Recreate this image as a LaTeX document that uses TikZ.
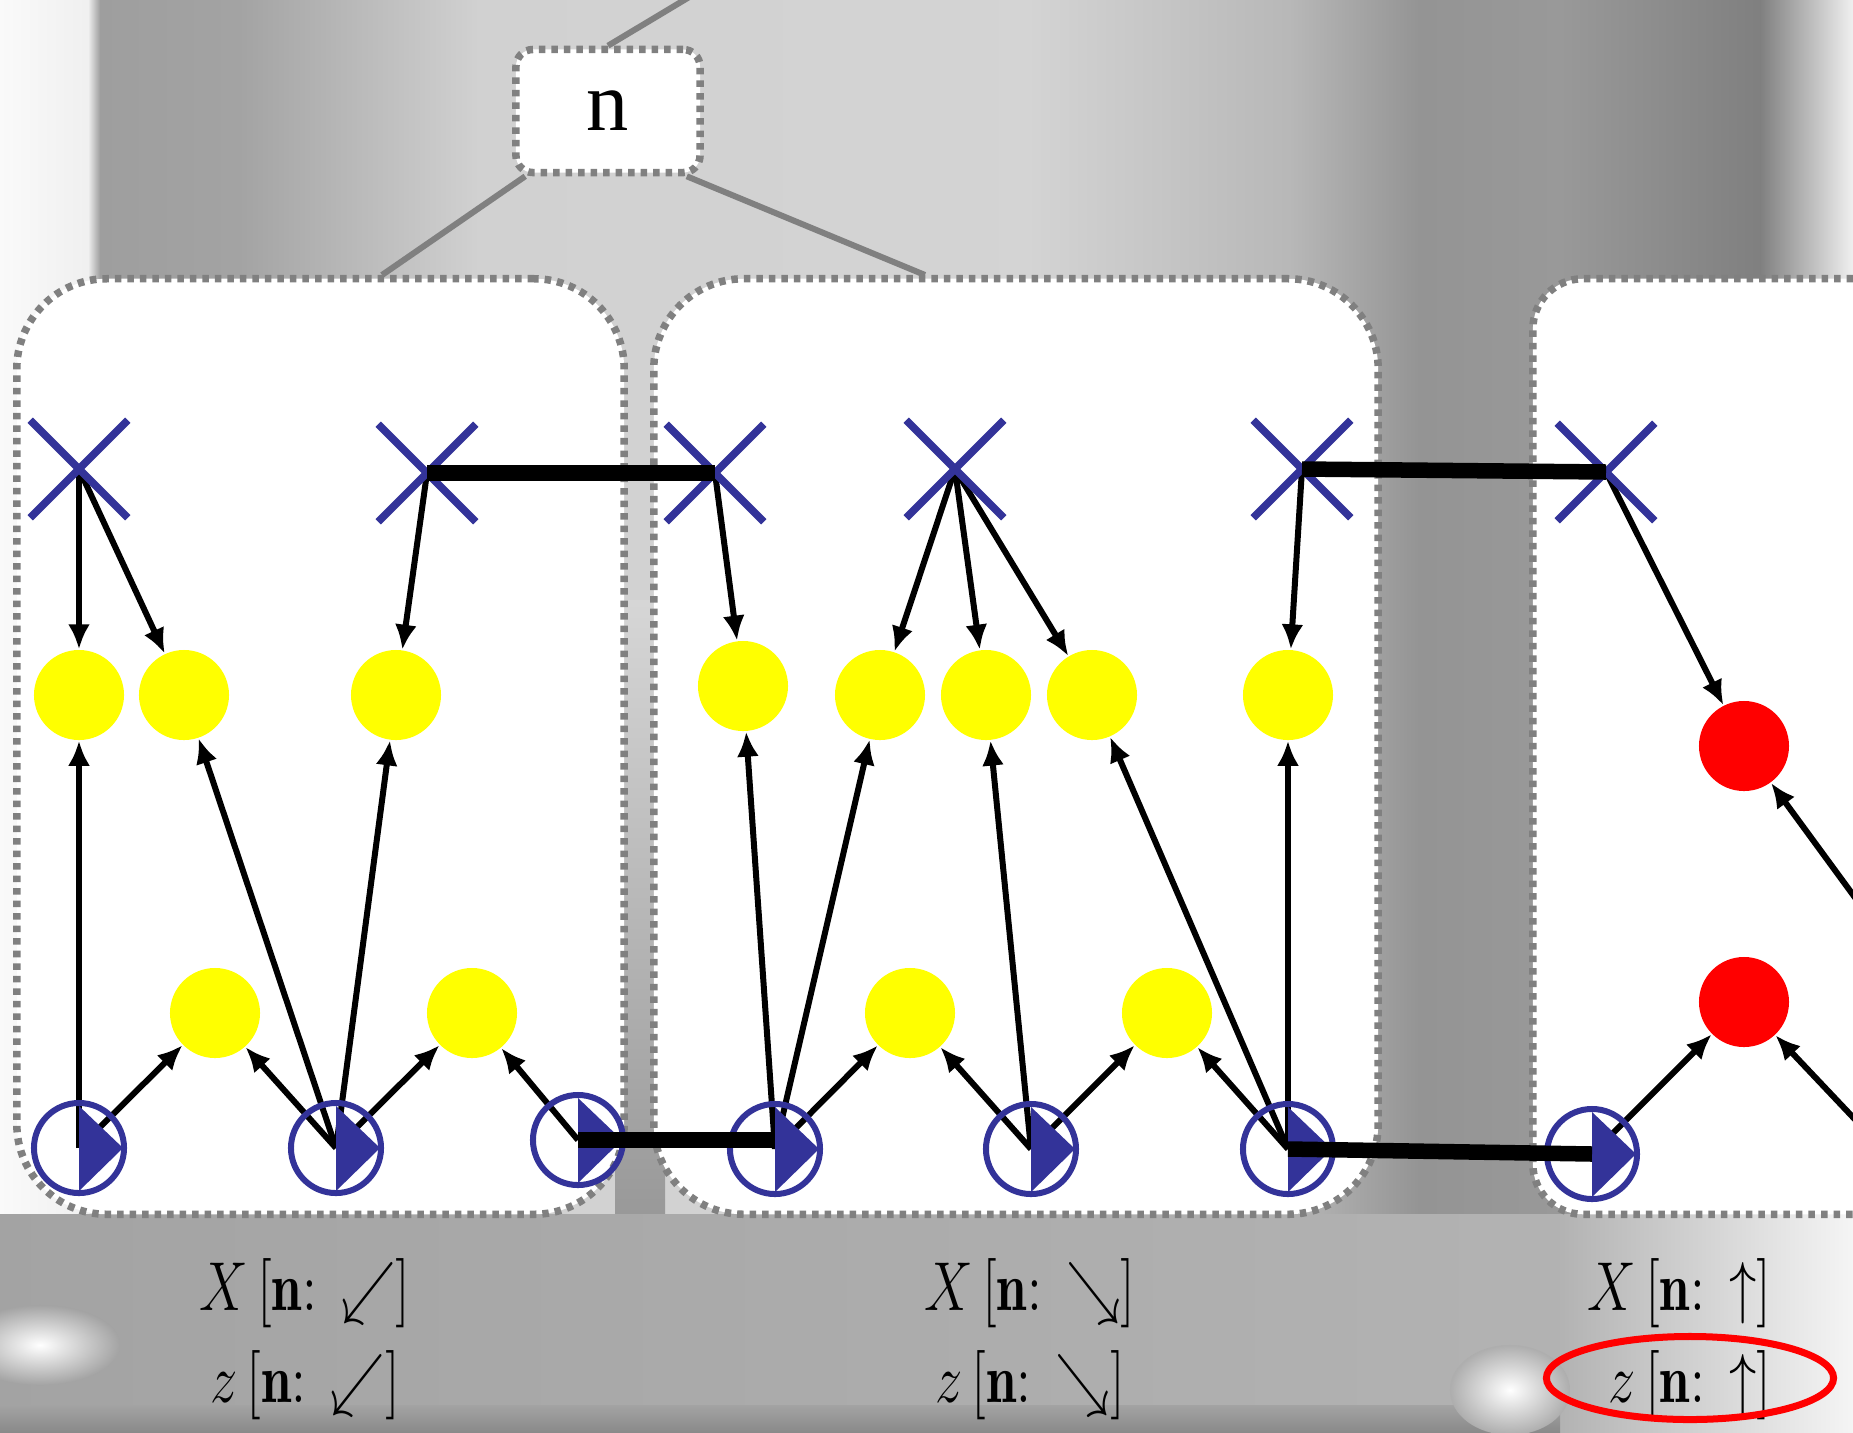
\documentclass[tikz,border=0pt]{standalone}
\usepackage{fix-cm}
\usepackage{amsmath,amssymb}
\usepackage{graphicx}
\usepackage{fontspec}
\newfontfamily\timesfont{Liberation Serif}
\usepackage{tikz}
\usetikzlibrary{arrows.meta,positioning,shapes.misc,shapes.geometric,calc}
\definecolor{MarkBlue}{RGB}{51,51,153}
\definecolor{FrameGray}{RGB}{128,128,128}
\definecolor{SpotYellow}{RGB}{255,255,0}
\definecolor{HotRed}{RGB}{255,0,0}
\pgfdeclarelayer{back}
\pgfdeclarelayer{wires}
\pgfdeclarelayer{front}
\pgfsetlayers{back,wires,main,front}

\begin{document}
\begin{tikzpicture}[x=0.01cm,y=-0.01cm,
  panel/.style={draw=FrameGray,fill=white,line width=0.075cm,dash pattern=on 0.065cm off 0.06cm,inner sep=0pt},
  link/.style={draw=FrameGray,line width=0.06cm},
  xmark/.style={cross out,draw=MarkBlue,line width=0.075cm,minimum size=0.9cm,inner sep=0pt},
  spot/.style={circle,fill=SpotYellow,minimum size=0.9cm,inner sep=0pt},
  hotspot/.style={spot,fill=HotRed},
  sensor/.style={circle,draw=MarkBlue,line width=0.06cm,minimum size=0.9cm,inner sep=0pt,
    path picture={\fill[MarkBlue] (path picture bounding box.center) ++(0,0.42cm) -- ++(0,-0.85cm) -- ++(0.44cm,0.43cm) -- cycle;}},
  wire/.style={-{Latex[length=0.25cm,width=0.22cm]},line width=0.06cm},
  bond/.style={line width=0.155cm},
  tag/.style={font=\fontsize{15.5}{26.2}\selectfont,inner sep=0pt}]
  \useasboundingbox (0,0) rectangle (1853,1432);

  \begin{pgfonlayer}{back}
    \fill[black!35] (0,0) rectangle (1853,1432);
    \foreach \xa/\xb/\la/\ra in {0/88/2/6,88/100/6/38,100/240/38/36,240/480/36/18,480/1030/18/17,1030/1290/17/28,1290/1420/28/42,1420/1560/42/40,1560/1760/40/50,1760/1853/50/6}
      \shade[left color=black!\la,right color=black!\ra] (\xa,0) rectangle (\xb,1214);
    \shade[top color=black!16,bottom color=black!40] (615,600) rectangle (665,1214);
    \shade[left color=black!36,right color=black!30] (0,1214) rectangle (1560,1432);
    \shade[left color=black!30,right color=black!4] (1560,1214) rectangle (1853,1432);
    \shade[top color=black!36,bottom color=black!46] (0,1405) rectangle (1560,1432);
    \shade[inner color=white,outer color=black!36] (40,1345) ellipse [x radius=0.8cm,y radius=0.4cm];
    \shade[inner color=white,outer color=black!32] (1510,1390) ellipse [x radius=0.6cm,y radius=0.45cm];

    \node[panel,rounded corners=0.9cm,minimum width=6.07cm,minimum height=9.35cm] (box1) at (320.5,746.5) {};
    \node[panel,rounded corners=0.9cm,minimum width=7.24cm,minimum height=9.35cm] (box2) at (1016,746.5) {};
    \node[panel,rounded corners=0.5cm,minimum width=4.2cm,minimum height=9.35cm] (box3) at (1743,746.5) {};
    \node[panel,rounded corners=0.17cm,minimum width=1.84cm,minimum height=1.23cm,
      font=\timesfont\fontsize{24}{24}\selectfont] (n) at (608,111) {n};
    \coordinate (up) at (726,-25);
    \draw[link] (n.north) -- (up);
    \draw[link] ([xshift=0.13cm]n.south west) -- ([xshift=0.615cm]box1.north);
    \draw[link] ([xshift=-0.17cm]n.south east) -- ([xshift=-0.91cm]box2.north);
  \end{pgfonlayer}

  \foreach \nm/\px/\py in {c1/79/469,c2/427/473,c3/715/473,c4/955/469,c5/1302/469,c6/1606/472}
    \node[xmark] (\nm) at (\px,\py) {};
  \foreach \nm/\px/\py in {y1/79/695,y2/184/695,y3/396/695,y4/743/686,y5/880/695,y6/986/695,y7/1092/695,y8/1288/695,y9/215/1013,y10/472/1013,y11/910/1013,y12/1167/1013}
    \node[spot] (\nm) at (\px,\py) {};
  \node[hotspot] (r1) at (1744,746) {};
  \node[hotspot] (r2) at (1744,1002) {};
  \foreach \nm/\px/\py in {m1/79/1148,m2/336/1148,m3/578/1140,m4/775/1149,m5/1031/1149,m6/1288/1149,m7/1592/1154}
    \node[sensor] (\nm) at (\px,\py) {};
  \coordinate (r1src) at (1900,959);
  \coordinate (r2src) at (1900,1167);

  \begin{pgfonlayer}{wires}
    \foreach \a/\b in {c1/y1,c1/y2,c2/y3,c3/y4,c4/y5,c4/y6,c4/y7,c5/y8,c6/r1,m1/y1,m1/y9,m2/y2,m2/y3,m2/y9,m2/y10,m3/y10,m4/y4,m4/y5,m4/y11,m5/y11,m5/y6,m5/y12,m6/y7,m6/y12,m6/y8,m7/r2}
      \draw[wire] (\a.center) -- (\b);
    \draw[wire] (r1src) -- (r1);
    \draw[wire] (r2src) -- (r2);
  \end{pgfonlayer}

  \begin{pgfonlayer}{front}
    \draw[bond] (c2.center) -- (c3.center);
    \draw[bond] (c5.center) -- (c6.center);
    \draw[bond] (m3.center) -- (m3.center -| m4.center);
    \draw[bond] (m6.center) -- (m7.center);
  \end{pgfonlayer}

  \node[tag,align=center,anchor=north] (lab1) at (305,1258)
    {\scalebox{1}[1.27]{$X\,[\mathbf{n}{:}\,\swarrow]$}\\\scalebox{1}[1.27]{$z\,[\mathbf{n}{:}\,\swarrow]$}};
  \node[tag,align=center,anchor=north] (lab2) at (1030,1258)
    {\scalebox{1}[1.27]{$X\,[\mathbf{n}{:}\,\searrow]$}\\\scalebox{1}[1.27]{$z\,[\mathbf{n}{:}\,\searrow]$}};
  \node[tag,align=right,anchor=north east] (lab3) at (1772,1258)
    {\scalebox{1}[1.27]{$X\,[\mathbf{n}{:}\,\uparrow]$}\\\scalebox{1}[1.27]{$z\,[\mathbf{n}{:}\,\uparrow]$}};
  \node[ellipse,draw=HotRed,line width=0.07cm,minimum width=2.87cm,minimum height=0.83cm,inner sep=0pt] (ring) at (1690,1378) {};
\end{tikzpicture}
\end{document}
